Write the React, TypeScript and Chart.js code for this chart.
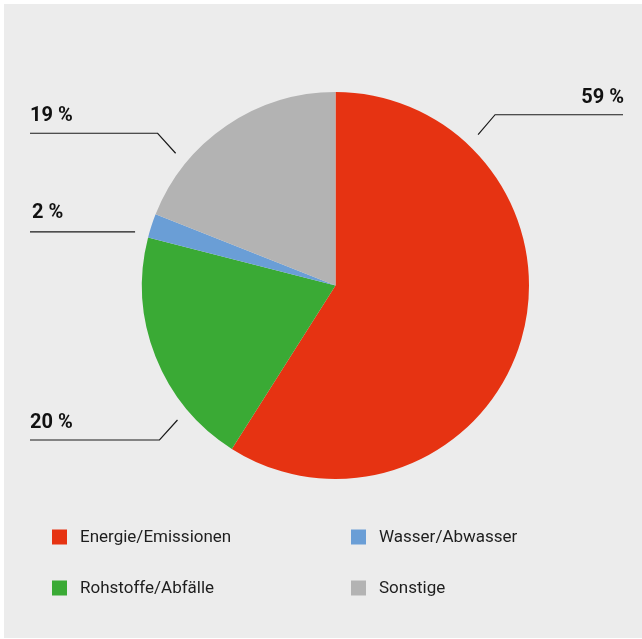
import React, { useEffect, useRef } from "react";
import { Chart, registerables } from "chart.js";

Chart.register(...registerables);

const categories = ["Energie/Emissionen", "Rohstoffe/Abfälle", "Wasser/Abwasser", "Sonstige"];
const shares = [59, 20, 2, 19];
const colors = ["#e63312", "#3aaa35", "#6a9ed6", "#b3b3b3"];
const legendOrder = [0, 2, 1, 3];
// label anchor angle (deg, clockwise from top) and side of each callout
const calloutAngles = [43.4, 229.6, 285, 309.6];
const calloutSides = ["right", "left", "left", "left"];

const calloutPlugin = {
  id: "callouts",
  afterDatasetsDraw(chart: any) {
    const ctx = chart.ctx;
    const meta = chart.getDatasetMeta(0);
    const arc = meta.data[0];
    if (!arc) return;
    const cx = arc.x;
    const cy = arc.y;
    const r = arc.outerRadius;
    ctx.save();
    ctx.strokeStyle = "#1a1a1a";
    ctx.lineWidth = 1.2;
    ctx.fillStyle = "#111";
    ctx.font = "bold 20px Roboto, 'Liberation Sans', sans-serif";
    ctx.textBaseline = "alphabetic";
    shares.forEach((v, i) => {
      const a = (calloutAngles[i] * Math.PI) / 180;
      const d = r + 14;
      const ax = cx + d * Math.sin(a);
      const ay = cy - d * Math.cos(a);
      const side = calloutSides[i];
      const text = v + " %";
      ctx.beginPath();
      if (v < 5) {
        const ex = 26;
        ctx.moveTo(ax, ay);
        ctx.lineTo(ex, ay);
        ctx.stroke();
        ctx.textAlign = "left";
        ctx.fillText(text, ex + 2, ay - 14);
      } else {
        const up = Math.cos(a) > 0 ? -1 : 1;
        const ex = ax + (side === "right" ? 17 : -18);
        const ey = ay + up * 20;
        ctx.moveTo(ax, ay);
        ctx.lineTo(ex, ey);
        const endX = side === "right" ? chart.width - 19 : 26;
        ctx.lineTo(endX, ey);
        ctx.stroke();
        ctx.textAlign = side === "right" ? "right" : "left";
        ctx.fillText(text, side === "right" ? endX + 1 : endX, ey - 12);
      }
    });

    // legend
    ctx.font = "17px Roboto, 'Liberation Sans', sans-serif";
    ctx.textAlign = "left";
    ctx.textBaseline = "middle";
    legendOrder.forEach((idx, k) => {
      const col = k % 2;
      const row = Math.floor(k / 2);
      const x = 48 + col * 299;
      const y = 533 + row * 51;
      ctx.fillStyle = colors[idx];
      ctx.fillRect(x, y - 7.5, 15, 15);
      ctx.fillStyle = "#1e1e1e";
      ctx.fillText(categories[idx], x + 28, y + 1);
    });
    ctx.restore();
  },
};

export default function App() {
  const ref = useRef<HTMLCanvasElement | null>(null);
  useEffect(() => {
    document.body.style.margin = "0";
    if (!ref.current) return;
    const chart = new Chart(ref.current, {
      type: "pie",
      data: {
        labels: categories,
        datasets: [
          {
            data: shares,
            backgroundColor: colors,
            borderWidth: 0,
          },
        ],
      },
      options: {
        animation: false,
        responsive: false,
        events: [],
        layout: { padding: { left: 138, right: 113, top: 88, bottom: 159 } },
        plugins: {
          legend: { display: false },
          tooltip: { enabled: false },
        },
      },
      plugins: [calloutPlugin],
    });
    return () => chart.destroy();
  }, []);
  return (
    <div style={{ width: 642, height: 639, background: "#fff", padding: "4px 0 0 4px", boxSizing: "border-box" }}>
      <div style={{ width: 638, height: 634, background: "#ececec" }}>
        <canvas ref={ref} width={638} height={634} style={{ display: "block" }} />
      </div>
    </div>
  );
}
